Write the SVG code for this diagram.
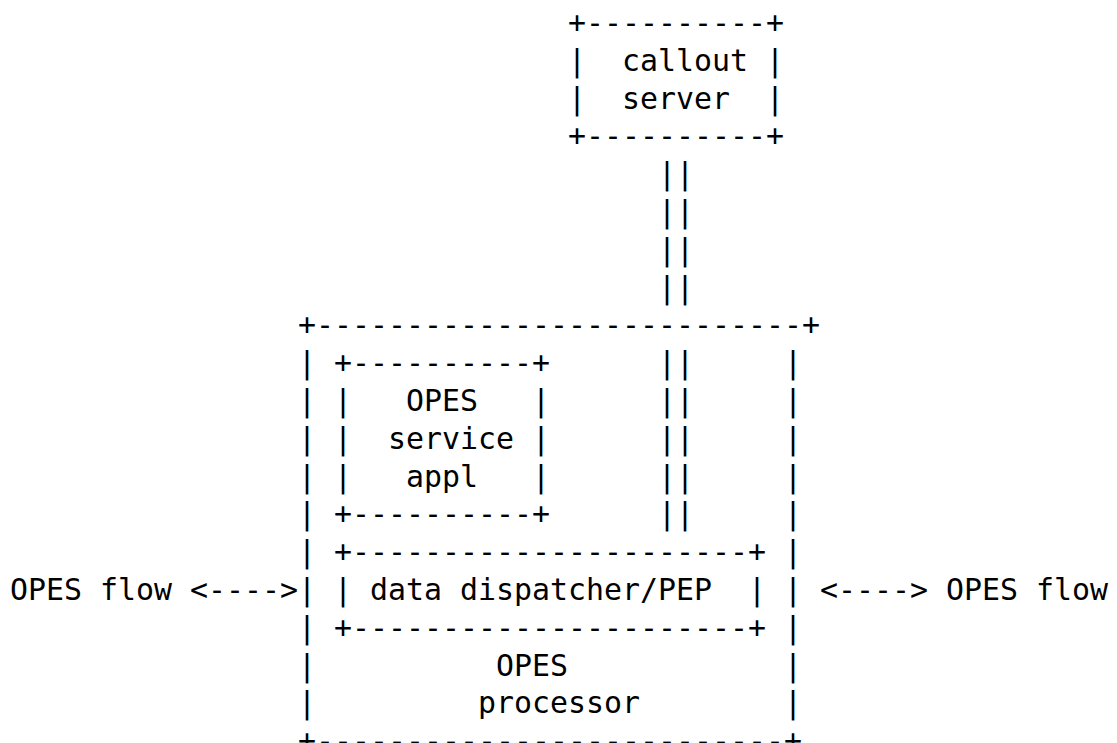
<svg xmlns="http://www.w3.org/2000/svg" width="1117" height="743" viewBox="0 0 1117 743">
<style>
text { font-family: "DejaVu Sans Mono", "Liberation Mono", monospace; font-size: 29.9px; fill: #000; white-space: pre; }
</style>
<rect width="1117" height="743" fill="#fff"/>
<g id="callout-server">
<text x="568" y="33">+----------+</text>
<text x="568" y="70.8" xml:space="preserve">|  callout |</text>
<text x="568" y="108.6" xml:space="preserve">|  server  |</text>
<text x="568" y="146.4">+----------+</text>
</g>
<g id="opes-processor">
<text x="298" y="335.4">+---------------------------+</text>
<text x="298" y="373.2">|</text><text x="784" y="373.2">|</text>
<text x="298" y="411">|</text><text x="784" y="411">|</text>
<text x="298" y="448.8">|</text><text x="784" y="448.8">|</text>
<text x="298" y="486.6">|</text><text x="784" y="486.6">|</text>
<text x="298" y="524.4">|</text><text x="784" y="524.4">|</text>
<text x="298" y="562.2">|</text><text x="784" y="562.2">|</text>
<text x="298" y="600">|</text><text x="784" y="600">|</text>
<text x="298" y="637.8">|</text><text x="784" y="637.8">|</text>
<text x="298" y="675.6">|</text><text x="784" y="675.6">|</text>
<text x="298" y="713.4">|</text><text x="784" y="713.4">|</text>
<text x="496" y="675.6">OPES</text>
<text x="478" y="713.4">processor</text>
<text x="298" y="751.2">+--------------------------+</text>
</g>
<g id="opes-service-appl">
<text x="334" y="373.2">+----------+</text>
<text x="334" y="411" xml:space="preserve">|   OPES   |</text>
<text x="334" y="448.8" xml:space="preserve">|  service |</text>
<text x="334" y="486.6" xml:space="preserve">|   appl   |</text>
<text x="334" y="524.4">+----------+</text>
</g>
<g id="data-dispatcher">
<text x="334" y="562.2">+----------------------+</text>
<text x="334" y="600" xml:space="preserve">| data dispatcher/PEP  |</text>
<text x="334" y="637.8">+----------------------+</text>
</g>
<g id="connectors">
<text x="658" y="184.2">||</text>
<text x="658" y="222">||</text>
<text x="658" y="259.8">||</text>
<text x="658" y="297.6">||</text>
<text x="658" y="373.2">||</text>
<text x="658" y="411">||</text>
<text x="658" y="448.8">||</text>
<text x="658" y="486.6">||</text>
<text x="658" y="524.4">||</text>
<text x="10" y="600" xml:space="preserve">OPES flow &lt;----&gt;</text>
<text x="820" y="600" xml:space="preserve">&lt;----&gt; OPES flow</text>
</g>
</svg>
